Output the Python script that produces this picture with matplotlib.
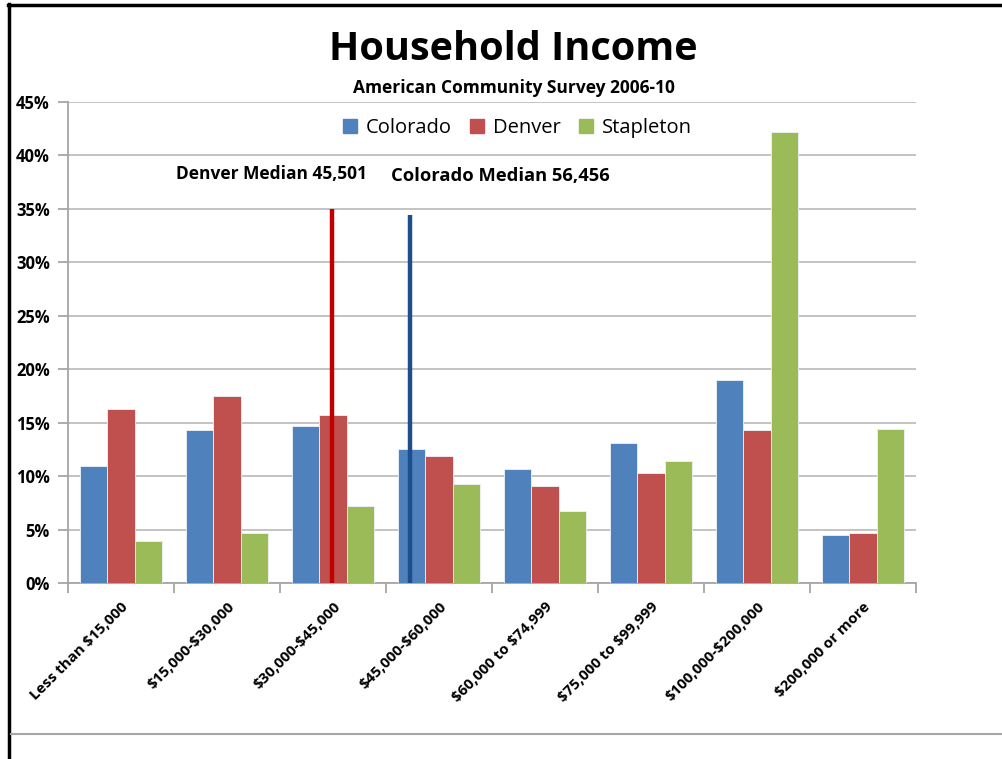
import matplotlib
matplotlib.use("Agg")
import matplotlib.pyplot as plt
import numpy as np
from matplotlib.lines import Line2D
from matplotlib.patches import Patch

plt.rcParams['font.family'] = ['Open Sans', 'DejaVu Sans']

categories = ["Less than $15,000", "$15,000-$30,000", "$30,000-$45,000",
              "$45,000-$60,000", "$60,000 to $74,999", "$75,000 to $99,999",
              "$100,000-$200,000", "$200,000 or more"]
colorado = [11.0, 14.3, 14.7, 12.6, 10.7, 13.1, 19.0, 4.5]
denver = [16.3, 17.5, 15.7, 11.9, 9.1, 10.3, 14.3, 4.7]
stapleton = [4.0, 4.7, 7.2, 9.3, 6.8, 11.4, 42.2, 14.4]
series_names = ["Colorado", "Denver", "Stapleton"]
series_colors = ["#4F81BD", "#C0504D", "#9BBB59"]

# median markers: position on the category axis and line height (%)
denver_median_label = "Denver Median 45,501"
colorado_median_label = "Colorado Median 56,456"
denver_median_x = 1.99
denver_median_top = 35.0
colorado_median_x = 2.73
colorado_median_top = 34.4

fig = plt.figure(figsize=(10.03, 7.59), dpi=100)
ax = fig.add_axes([0.0678, 0.2315, 0.8455, 0.6341])

x = np.arange(len(categories))
width = 0.26
for i, (vals, name, col) in enumerate(zip([colorado, denver, stapleton], series_names, series_colors)):
    ax.bar(x + (i - 1) * width, vals, width, color=col, edgecolor="#EEF3F8",
           linewidth=0.6, label=name, zorder=3)

ax.vlines([denver_median_x], 0, denver_median_top, color="#C00000", linewidth=3.2, zorder=4)
ax.vlines([colorado_median_x], 0, colorado_median_top, color="#1F4E8C", linewidth=3.2, zorder=4)

ax.set_xlim(-0.5, len(categories) - 0.5)
ax.set_ylim(0, 45)
ax.set_yticks(np.arange(0, 46, 5))
ax.set_yticklabels([f"{v}%" for v in range(0, 46, 5)], fontsize=12, fontweight="bold")
ax.yaxis.grid(True, color="#BEBEBE", linewidth=1.3, zorder=0)
ax.set_axisbelow(True)

ax.set_xticks(np.arange(-0.5, len(categories), 1.0))
ax.set_xticklabels([])
ax.set_xticks(x, minor=True)
ax.set_xticklabels(categories, minor=True, rotation=45, ha="right", va="top",
                   rotation_mode="anchor", fontsize=10.8, fontweight="bold",
                   parse_math=False)
ax.tick_params(axis="x", which="minor", length=0, pad=12)
ax.tick_params(axis="x", which="major", length=7, color="#A6A6A6", width=1.3)
ax.tick_params(axis="y", length=7, color="#A6A6A6", width=1.3, pad=6)

for s in ["top", "right"]:
    ax.spines[s].set_visible(False)
for s in ["left", "bottom"]:
    ax.spines[s].set_color("#A6A6A6")
    ax.spines[s].set_linewidth(1.3)

handles = [Patch(color=c) for c in series_colors]
leg = ax.legend(handles, series_names, loc="upper center", bbox_to_anchor=(0.53, 1.005),
                ncol=3, frameon=False, fontsize=14.5, handlelength=0.7,
                handleheight=0.7, columnspacing=0.9, handletextpad=0.45)

fig.text(0.512, 0.935, "Household Income", ha="center", va="center",
         fontsize=28.5, fontweight="bold")
fig.text(0.512, 0.884, "American Community Survey 2006-10", ha="center", va="center",
         fontsize=12.5, fontweight="bold")
ax.text(1.42, 38.3, denver_median_label, ha="center", va="center",
        fontsize=12.5, fontweight="bold")
ax.text(3.58, 38.1, colorado_median_label, ha="center", va="center",
        fontsize=13.2, fontweight="bold")

# frame around the figure
fig.add_artist(Line2D([9 / 1003, 9 / 1003], [0, 1 - 4 / 759], color="black",
                      linewidth=2.5, transform=fig.transFigure))
fig.add_artist(Line2D([8 / 1003, 1], [1 - 5 / 759, 1 - 5 / 759], color="black",
                      linewidth=2.5, transform=fig.transFigure))
fig.add_artist(Line2D([11 / 1003, 1], [1 - 734 / 759, 1 - 734 / 759], color="#A6A6A6",
                      linewidth=1.5, transform=fig.transFigure))

fig.savefig("out.png", dpi=100)
